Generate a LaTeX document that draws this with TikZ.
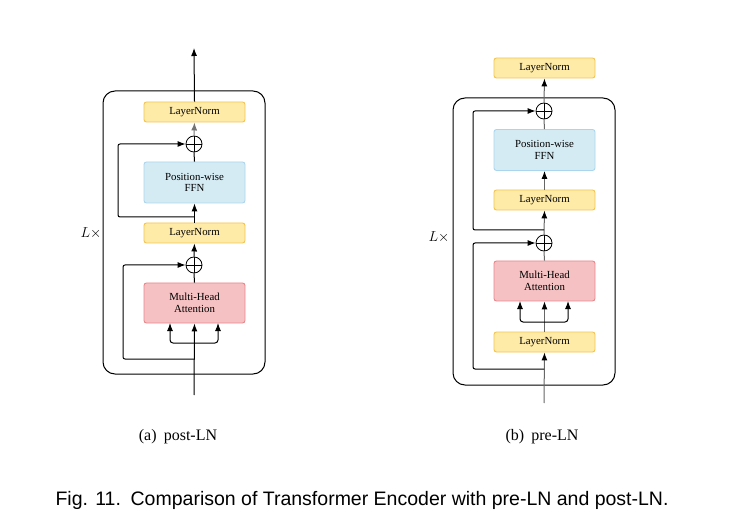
\documentclass[tikz,border=0pt]{standalone}
\usepackage{fontspec}
\setmainfont{Liberation Serif}
\newfontfamily\capfont{Liberation Sans}
\usetikzlibrary{arrows.meta,positioning,calc}
\definecolor{lnfill}{HTML}{FEEBA8}
\definecolor{lndraw}{HTML}{F5C44E}
\definecolor{ffnfill}{HTML}{D5EBF3}
\definecolor{ffndraw}{HTML}{A9D6EE}
\definecolor{attfill}{HTML}{F5C1C2}
\definecolor{attdraw}{HTML}{E8868A}
\tikzset{
  blk/.style={draw, rounded corners=2.5pt, line width=0.9pt, minimum width=101pt, align=center, font=\fontsize{10.8}{11.5}\selectfont, inner sep=0pt},
  lnbox/.style={blk, fill=lnfill, draw=lndraw, minimum height=20pt},
  ffnbox/.style={blk, fill=ffnfill, draw=ffndraw, minimum height=41pt},
  attbox/.style={blk, fill=attfill, draw=attdraw, minimum height=40pt},
  plusc/.style={draw, circle, minimum size=16pt, inner sep=0pt, line width=0.8pt},
  ln/.style={line width=1pt},
  arr/.style={line width=1pt, -{Latex[length=8pt,width=6pt]}},
  garr/.style={line width=1pt, draw=black!60, -{Latex[length=8pt,width=6pt,color=black]}},
  gln/.style={line width=1pt, draw=black!60},
  outer/.style={draw, line width=1pt, rounded corners=12pt},
  lab/.style={font=\fontsize{14}{16}\selectfont},
}
\newcommand{\plusmark}[1]{\draw[line width=0.8pt] (#1.north) -- (#1.south) (#1.west) -- (#1.east);}
\begin{document}
\begin{tikzpicture}[x=1pt,y=-1pt]
\useasboundingbox (0,0) rectangle (730,526);
% ---------- (a) post-LN ----------
\draw[outer] (103,91) rectangle (265,374);
\node[lnbox] (aln2) at (194.5,112) {LayerNorm};
\node[plusc] (ap2) at (194,144) {};
\plusmark{ap2}
\node[ffnbox] (affn) at (194.5,182.5) {Position-wise\\FFN};
\node[lnbox] (aln1) at (194.5,233) {LayerNorm};
\node[plusc] (ap1) at (194,265) {};
\plusmark{ap1}
\node[attbox] (aatt) at (194.5,303) {Multi-Head\\Attention};
\coordinate (ain) at (194,395);
\coordinate (aout) at (194,48);
\coordinate (ab1) at (194,359);
\coordinate (ab2) at (194,217);
\coordinate (abr) at (194,343);
\node[lab] (aL) at (91,233) {$L\times$};
% main path
\draw[arr] (ain) -- (aatt.south);
\draw[ln] (aatt.north) -- (ap1.south);
\draw[arr] (ap1.north) -- (aln1.south);
\draw[arr] (aln1.north) -- (affn.south);
\draw[ln] (affn.north) -- (ap2.south);
\draw[line width=1pt, draw=black!55, -{Latex[length=8pt,width=6pt,color=black!55]}] (ap2.north) -- (aln2.south);
\draw[arr] (aln2.north) -- (aout);
% branches
\draw[arr, rounded corners=3pt] (abr) -| (170,323);
\draw[arr, rounded corners=3pt] (abr) -| (218,323);
% residuals
\draw[arr, rounded corners=2pt] (ab1) -| (123,265) -- (ap1.west);
\draw[arr, rounded corners=2pt] (ab2) -| (118,144) -- (ap2.west);
% ---------- (b) pre-LN ----------
\draw[outer] (453,98) rectangle (615,385);
\node[lnbox] (bln3) at (544.5,68) {LayerNorm};
\node[plusc] (bp2) at (544,111) {};
\plusmark{bp2}
\node[ffnbox] (bffn) at (544.5,150) {Position-wise\\FFN};
\node[lnbox] (bln2) at (544.5,200) {LayerNorm};
\node[plusc] (bp1) at (544,243) {};
\plusmark{bp1}
\node[attbox] (batt) at (544.5,281) {Multi-Head\\Attention};
\node[lnbox] (bln1) at (544.5,342) {LayerNorm};
\coordinate (bin) at (544,403);
\coordinate (bb1) at (544,369);
\coordinate (bb2) at (544,230);
\coordinate (bbr) at (544,322);
\node[lab] (bL) at (439,237) {$L\times$};
\draw[garr] (bin) -- (bln1.south);
\draw[garr] (bln1.north) -- (batt.south);
\draw[gln] (batt.north) -- (bp1.south);
\draw[garr] (bp1.north) -- (bln2.south);
\draw[garr] (bln2.north) -- (bffn.south);
\draw[gln] (bffn.north) -- (bp2.south);
\draw[garr] (bp2.north) -- (bln3.south);
\draw[arr, rounded corners=3pt] (bbr) -| (520,301);
\draw[arr, rounded corners=3pt] (bbr) -| (568,301);
\draw[arr, rounded corners=2pt] (bb1) -| (473,243) -- (bp1.west);
\draw[arr, rounded corners=2pt] (bb2) -| (473,111) -- (bp2.west);
% ---------- captions ----------
\node[font=\fontsize{16}{19}\selectfont] (capa) at (178,437) {(a)\hspace{0.45em}post-LN};
\node[font=\fontsize{16}{19}\selectfont] (capb) at (542,437) {(b)\hspace{0.45em}pre-LN};
\node[font=\capfont\fontsize{19.5}{23}\selectfont, anchor=base west] (cap) at (52,505) {Fig. 11.\hspace{0.5em}Comparison of Transformer Encoder with pre-LN and post-LN.};
\end{tikzpicture}
\end{document}
